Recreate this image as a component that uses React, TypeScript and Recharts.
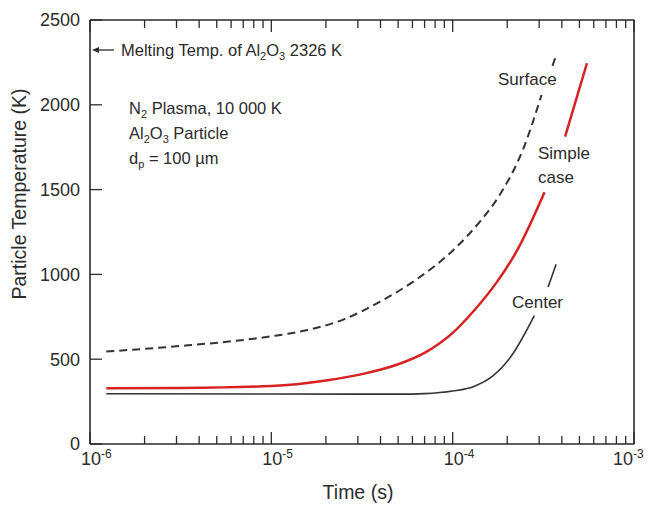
import React from "react"
import {
  LineChart,
  Line,
  XAxis,
  YAxis,
  Customized,
} from "recharts"

// time (s) and particle temperature (K) for each curve; null marks a label gap
const SURFACE_T = [1.23e-6, 3.16e-6, 6.31e-6, 1e-5, 1.58e-5, 2.51e-5, 3.98e-5, 6.31e-5, 1e-4, 1.41e-4, 1.82e-4, 2.45e-4, 3.09e-4, 3.3e-4, 3.55e-4, 3.72e-4]
const SURFACE_K = [545, 578, 608, 635, 672, 735, 840, 970, 1140, 1310, 1470, 1740, 2058, null, 2230, 2290]

const SIMPLE_T = [1.23e-6, 3.16e-6, 1e-5, 2e-5, 3.16e-5, 5.01e-5, 7.08e-5, 1e-4, 1.32e-4, 1.74e-4, 2.29e-4, 3.21e-4, 3.6e-4, 4.17e-4, 5.5e-4]
const SIMPLE_K = [328, 330, 342, 375, 412, 470, 540, 655, 790, 950, 1150, 1484, null, 1812, 2245]

const CENTER_T = [1.23e-6, 1e-5, 3e-5, 5e-5, 7e-5, 1e-4, 1.32e-4, 1.66e-4, 2.11e-4, 2.82e-4, 3.1e-4, 3.36e-4, 3.72e-4]
const CENTER_K = [296, 295, 294, 294, 297, 312, 341, 400, 520, 757, null, 926, 1060]

const MELTING_K = 2326

const X_DECADES = [1e-6, 1e-5, 1e-4, 1e-3]
const X_EXPONENTS = ["-6", "-5", "-4", "-3"]
const Y_TICKS = [0, 500, 1000, 1500, 2000, 2500]

const X_TICKS: number[] = []
X_DECADES.forEach((d, i) => {
  if (i === X_DECADES.length - 1) {
    X_TICKS.push(d)
    return
  }
  for (let m = 1; m <= 9; m++) X_TICKS.push(Number((m * d).toPrecision(3)))
})

const toRows = (ts: number[], ks: (number | null)[]) =>
  ts.map((t, i) => ({ t, T: ks[i] }))

const surface = toRows(SURFACE_T, SURFACE_K)
const simple = toRows(SIMPLE_T, SIMPLE_K)
const center = toRows(CENTER_T, CENTER_K)

const INK = "#2b2b2b"
const FONT = "'Liberation Sans', Arial, Helvetica, sans-serif"

const decadeIndex = (v: number) =>
  X_DECADES.findIndex((d) => Math.abs(v / d - 1) < 1e-6)

function BottomTick(props: any) {
  const { x, y, payload } = props
  const i = decadeIndex(payload.value)
  const major = i >= 0
  // the last label is pulled left so it stays inside the canvas
  const shift = i === X_DECADES.length - 1 ? 21 : 9
  return (
    <g>
      <line x1={x} x2={x} y1={y} y2={y - (major ? 12 : 8)} stroke={INK} strokeWidth={1.3} />
      {major && (
        <text x={x - shift} y={y + 21} fontSize={18} fill={INK} fontFamily={FONT}>
          10
          <tspan fontSize={12} dy={-7}>
            {X_EXPONENTS[i]}
          </tspan>
        </text>
      )}
    </g>
  )
}

function TopTick(props: any) {
  const { x, y, payload } = props
  const major = decadeIndex(payload.value) >= 0
  return <line x1={x} x2={x} y1={y} y2={y + (major ? 12 : 8)} stroke={INK} strokeWidth={1.3} />
}

function LeftTick(props: any) {
  const { x, y, payload } = props
  return (
    <g>
      <line x1={x} x2={x + 12} y1={y} y2={y} stroke={INK} strokeWidth={1.3} />
      <text x={x - 10} y={y} dy="0.35em" textAnchor="end" fontSize={18} fill={INK} fontFamily={FONT}>
        {payload.value}
      </text>
    </g>
  )
}

function RightTick(props: any) {
  const { x, y } = props
  return <line x1={x} x2={x - 12} y1={y} y2={y} stroke={INK} strokeWidth={1.3} />
}

function Notes() {
  const txt = { fill: INK, fontFamily: FONT, fontSize: 16.5 }
  const lbl = { fill: INK, fontFamily: FONT, fontSize: 17 }
  const sub = { fontSize: 11 }
  return (
    <g>
      {/* melting point marker on the left axis */}
      <line x1={98} x2={114} y1={50} y2={50} stroke={INK} strokeWidth={1.3} />
      <path d="M92,50 L99,47 L99,53 Z" fill={INK} />
      <text x={121} y={56} {...txt}>
        Melting Temp. of Al<tspan {...sub} dy={4}>2</tspan>
        <tspan dy={-4}>O</tspan>
        <tspan {...sub} dy={4}>3</tspan>
        <tspan dy={-4}> {MELTING_K} K</tspan>
      </text>

      <text x={129} y={114} {...txt}>
        N<tspan {...sub} dy={4}>2</tspan>
        <tspan dy={-4}> Plasma, 10 000 K</tspan>
      </text>
      <text x={129} y={139} {...txt}>
        Al<tspan {...sub} dy={4}>2</tspan>
        <tspan dy={-4}>O</tspan>
        <tspan {...sub} dy={4}>3</tspan>
        <tspan dy={-4}> Particle</tspan>
      </text>
      <text x={129} y={164} {...txt}>
        d<tspan {...sub} dy={4}>p</tspan>
        <tspan dy={-4}> = 100 µm</tspan>
      </text>

      <text x={498} y={85} {...lbl}>Surface</text>
      <text x={538} y={159} {...lbl}>Simple</text>
      <text x={538} y={183} {...lbl}>case</text>
      <text x={512} y={308} {...lbl}>Center</text>

      <text x={358} y={499} textAnchor="middle" fill={INK} fontFamily={FONT} fontSize={19.5}>
        Time (s)
      </text>
      <text
        x={0}
        y={0}
        transform="translate(26,194) rotate(-90)"
        textAnchor="middle"
        fill={INK}
        fontFamily={FONT}
        fontSize={19.5}
      >
        Particle Temperature (K)
      </text>
    </g>
  )
}

export default function App() {
  const xCommon = {
    type: "number" as const,
    dataKey: "t",
    scale: "log" as const,
    domain: [1e-6, 1e-3],
    ticks: X_TICKS,
    interval: 0 as const,
    tickSize: 0,
    tickMargin: 0,
    tickLine: false,
    allowDataOverflow: true,
    stroke: INK,
    strokeWidth: 1.6,
  }
  const yCommon = {
    type: "number" as const,
    domain: [0, 2500],
    ticks: Y_TICKS,
    interval: 0 as const,
    tickSize: 0,
    tickMargin: 0,
    tickLine: false,
    stroke: INK,
    strokeWidth: 1.6,
  }
  return (
    <div style={{ position: "absolute", left: 0, top: 0, background: "#fff" }}>
      <LineChart width={649} height={507} margin={{ top: 0, right: 0, bottom: 0, left: 0 }}>
        <XAxis xAxisId="b" orientation="bottom" height={63} tick={<BottomTick />} {...xCommon} />
        <XAxis xAxisId="t" orientation="top" height={20} tick={<TopTick />} {...xCommon} />
        <YAxis yAxisId="l" orientation="left" width={90} tick={<LeftTick />} {...yCommon} />
        <YAxis yAxisId="r" orientation="right" width={15} tick={<RightTick />} {...yCommon} />
        <Line
          xAxisId="b"
          yAxisId="l"
          data={surface}
          dataKey="T"
          type="monotone"
          stroke="#333"
          strokeWidth={2}
          strokeDasharray="8 5"
          dot={false}
          isAnimationActive={false}
        />
        <Line
          xAxisId="b"
          yAxisId="l"
          data={simple}
          dataKey="T"
          type="monotone"
          stroke="#d62222"
          strokeWidth={2.5}
          dot={false}
          isAnimationActive={false}
        />
        <Line
          xAxisId="b"
          yAxisId="l"
          data={center}
          dataKey="T"
          type="monotone"
          stroke="#333"
          strokeWidth={1.6}
          dot={false}
          isAnimationActive={false}
        />
        <Customized component={Notes} />
      </LineChart>
    </div>
  )
}
